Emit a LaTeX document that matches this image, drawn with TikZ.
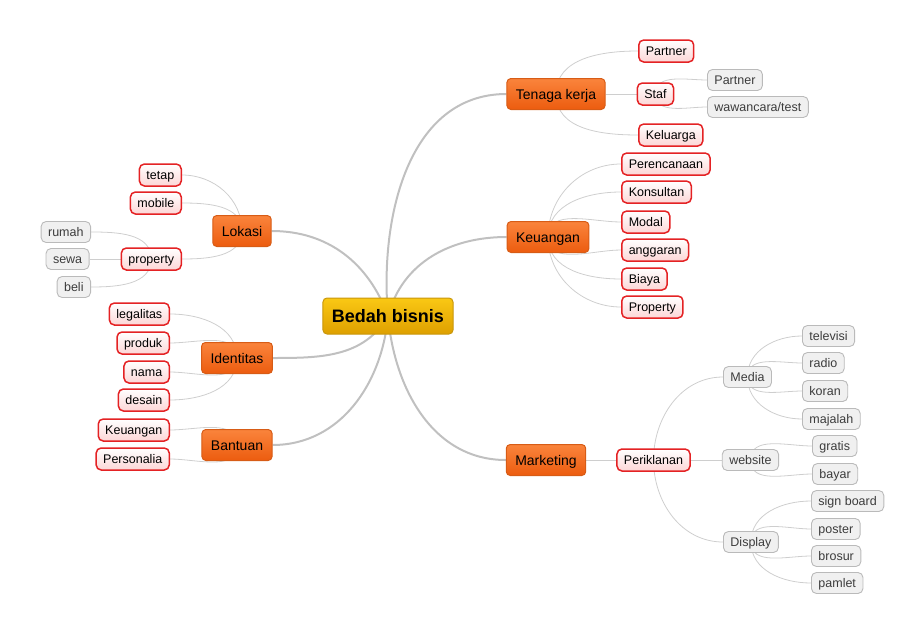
\documentclass[tikz,border=0pt]{standalone}
\usepackage{fontspec}
\setmainfont{Liberation Sans}
\usetikzlibrary{positioning, backgrounds}
\definecolor{roottop}{RGB}{250,200,20}
\definecolor{rootbot}{RGB}{222,160,0}
\definecolor{rootframe}{RGB}{200,150,10}
\definecolor{orgtop}{RGB}{250,132,60}
\definecolor{orgbot}{RGB}{236,92,15}
\definecolor{orgframe}{RGB}{215,92,22}
\definecolor{redframe}{RGB}{228,34,36}
\definecolor{redbot}{RGB}{252,214,214}
\definecolor{leaffill}{RGB}{240,240,240}
\definecolor{leafframe}{RGB}{186,186,186}
\definecolor{leaftext}{RGB}{60,60,60}
\definecolor{linegray}{RGB}{192,192,192}
\definecolor{linelight}{RGB}{206,206,206}
\tikzset{
  rootbox/.style={rectangle, draw=rootframe, top color=roottop, bottom color=rootbot,
    rounded corners=4pt, line width=1pt, inner xsep=9pt, inner ysep=0pt,
    minimum height=36pt, font=\fontsize{18}{20}\selectfont\bfseries},
  mainbox/.style={rectangle, draw=orgframe, top color=orgtop, bottom color=orgbot,
    rounded corners=4pt, line width=1pt, inner xsep=9pt, inner ysep=0pt,
    text height=10pt, text depth=0pt,
    minimum height=31pt, font=\fontsize{14}{16}\selectfont},
  subbox/.style={rectangle, draw=redframe, top color=white, bottom color=redbot,
    rounded corners=5pt, line width=1.5pt, inner xsep=7pt, inner ysep=0pt,
    text height=9pt, text depth=0pt,
    minimum height=22pt, font=\fontsize{12.5}{14}\selectfont},
  leafbox/.style={rectangle, draw=leafframe, fill=leaffill, text=leaftext,
    rounded corners=5pt, line width=0.9pt, inner xsep=7pt, inner ysep=0pt,
    text height=9pt, text depth=0pt,
    minimum height=21pt, font=\fontsize{12.5}{14}\selectfont},
  mainline/.style={draw=linegray, line width=2pt},
  subline/.style={draw=linelight, line width=0.8pt},
  up/.style={out=90, in=180},
  down/.style={out=-90, in=180},
  lup/.style={out=90, in=0},
  ldown/.style={out=-90, in=0}
}
\begin{document}
\begin{tikzpicture}[x=1pt, y=-1pt]
  \useasboundingbox (0,0) rectangle (922,632);
  % centre and main branches
  \node[rootbox] (bedah) at (388,316) {Bedah bisnis};
  \node[mainbox] (tk)  at (556,94)  {Tenaga kerja};
  \node[mainbox] (keu) at (548,237) {Keuangan};
  \node[mainbox] (mkt) at (546,460) {Marketing};
  \node[mainbox] (lok) at (242,231) {Lokasi};
  \node[mainbox] (ide) at (237,358) {Identitas};
  \node[mainbox] (ban) at (237,445) {Bantuan};

  % Tenaga kerja
  \node[subbox, anchor=west] (tkpartner) at (638,51) {Partner};
  \node[subbox, right=31pt of tk] (tkstaf) {Staf};
  \node[subbox, anchor=west] (tkkeluarga) at (638,135) {Keluarga};
  \node[leafbox, anchor=west] (stafpartner) at (707,80) {Partner};
  \node[leafbox, anchor=west] (stafwawancara) at (707,107) {wawancara/test};

  % Keuangan
  \node[subbox, anchor=west] (keurencana) at (621,164) {Perencanaan};
  \node[subbox, anchor=west] (keukonsul) at (621,192) {Konsultan};
  \node[subbox, anchor=west] (keumodal) at (621,222) {Modal};
  \node[subbox, anchor=west] (keuanggaran) at (621,250) {anggaran};
  \node[subbox, anchor=west] (keubiaya) at (621,279) {Biaya};
  \node[subbox, anchor=west] (keuprop) at (621,307) {Property};

  % Marketing
  \node[subbox, right=30pt of mkt] (mktiklan) {Periklanan};
  \node[leafbox, anchor=west] (iklanmedia) at (723,377) {Media};
  \node[leafbox, right=31pt of mktiklan] (iklanweb) {website};
  \node[leafbox, anchor=west] (iklandisplay) at (723,542) {Display};
  \node[leafbox, anchor=west] (mediatv) at (802,336) {televisi};
  \node[leafbox, anchor=west] (mediaradio) at (802,363) {radio};
  \node[leafbox, anchor=west] (mediakoran) at (802,391) {koran};
  \node[leafbox, anchor=west] (mediamajalah) at (802,419) {majalah};
  \node[leafbox, anchor=west] (webgratis) at (812,446) {gratis};
  \node[leafbox, anchor=west] (webbayar) at (812,474) {bayar};
  \node[leafbox, anchor=west] (dispsign) at (811,501) {sign board};
  \node[leafbox, anchor=west] (dispposter) at (811,529) {poster};
  \node[leafbox, anchor=west] (dispbrosur) at (811,556) {brosur};
  \node[leafbox, anchor=west] (disppamlet) at (811,583) {pamlet};

  % Lokasi
  \node[subbox, anchor=east] (loktetap) at (182,175) {tetap};
  \node[subbox, anchor=east] (lokmobile) at (182,203) {mobile};
  \node[subbox, anchor=east] (lokprop) at (182,259) {property};
  \node[leafbox, anchor=east] (proprumah) at (91,232) {rumah};
  \node[leafbox, left=31pt of lokprop] (propsewa) {sewa};
  \node[leafbox, anchor=east] (propbeli) at (91,287) {beli};

  % Identitas
  \node[subbox, anchor=east] (idelegal) at (170,314) {legalitas};
  \node[subbox, anchor=east] (ideproduk) at (170,343) {produk};
  \node[subbox, anchor=east] (idenama) at (170,372) {nama};
  \node[subbox, anchor=east] (idedesain) at (170,400) {desain};

  % Bantuan
  \node[subbox, anchor=east] (bankeu) at (170,430) {Keuangan};
  \node[subbox, anchor=east] (banpersonal) at (170,459) {Personalia};

  \begin{scope}[on background layer]
    \draw[mainline] (bedah.center) to[out=95, in=180] (tk.west);
    \draw[mainline] (bedah.center) to[out=75, in=180] (keu.west);
    \draw[mainline] (bedah.center) to[out=-85, in=180] (mkt.west);
    \draw[mainline] (bedah.center) to[out=110, in=0] (lok.east);
    \draw[mainline] (bedah.center) to[out=-120, in=0] (ide.east);
    \draw[mainline] (bedah.center) to[out=-95, in=0] (ban.east);

    \draw[subline] (tk.center) to[up] (tkpartner.west);
    \draw[subline] (tk) -- (tkstaf);
    \draw[subline] (tk.center) to[down] (tkkeluarga.west);
    \draw[subline] (tkstaf.center) to[up] (stafpartner.west);
    \draw[subline] (tkstaf.center) to[down] (stafwawancara.west);

    \draw[subline] (keu.center) to[up] (keurencana.west);
    \draw[subline] (keu.center) to[up] (keukonsul.west);
    \draw[subline] (keu.center) to[up] (keumodal.west);
    \draw[subline] (keu.center) to[down] (keuanggaran.west);
    \draw[subline] (keu.center) to[down] (keubiaya.west);
    \draw[subline] (keu.center) to[down] (keuprop.west);

    \draw[subline] (mkt) -- (mktiklan);
    \draw[subline] (mktiklan.center) to[up] (iklanmedia.west);
    \draw[subline] (mktiklan) -- (iklanweb);
    \draw[subline] (mktiklan.center) to[down] (iklandisplay.west);
    \draw[subline] (iklanmedia.center) to[up] (mediatv.west);
    \draw[subline] (iklanmedia.center) to[up] (mediaradio.west);
    \draw[subline] (iklanmedia.center) to[down] (mediakoran.west);
    \draw[subline] (iklanmedia.center) to[down] (mediamajalah.west);
    \draw[subline] (iklanweb.center) to[up] (webgratis.west);
    \draw[subline] (iklanweb.center) to[down] (webbayar.west);
    \draw[subline] (iklandisplay.center) to[up] (dispsign.west);
    \draw[subline] (iklandisplay.center) to[up] (dispposter.west);
    \draw[subline] (iklandisplay.center) to[down] (dispbrosur.west);
    \draw[subline] (iklandisplay.center) to[down] (disppamlet.west);

    \draw[subline] (lok.center) to[lup] (loktetap.east);
    \draw[subline] (lok.center) to[lup] (lokmobile.east);
    \draw[subline] (lok.center) to[ldown] (lokprop.east);
    \draw[subline] (lokprop.center) to[lup] (proprumah.east);
    \draw[subline] (lokprop) -- (propsewa);
    \draw[subline] (lokprop.center) to[ldown] (propbeli.east);

    \draw[subline] (ide.center) to[lup] (idelegal.east);
    \draw[subline] (ide.center) to[lup] (ideproduk.east);
    \draw[subline] (ide.center) to[ldown] (idenama.east);
    \draw[subline] (ide.center) to[ldown] (idedesain.east);

    \draw[subline] (ban.center) to[lup] (bankeu.east);
    \draw[subline] (ban.center) to[ldown] (banpersonal.east);
  \end{scope}
\end{tikzpicture}
\end{document}
